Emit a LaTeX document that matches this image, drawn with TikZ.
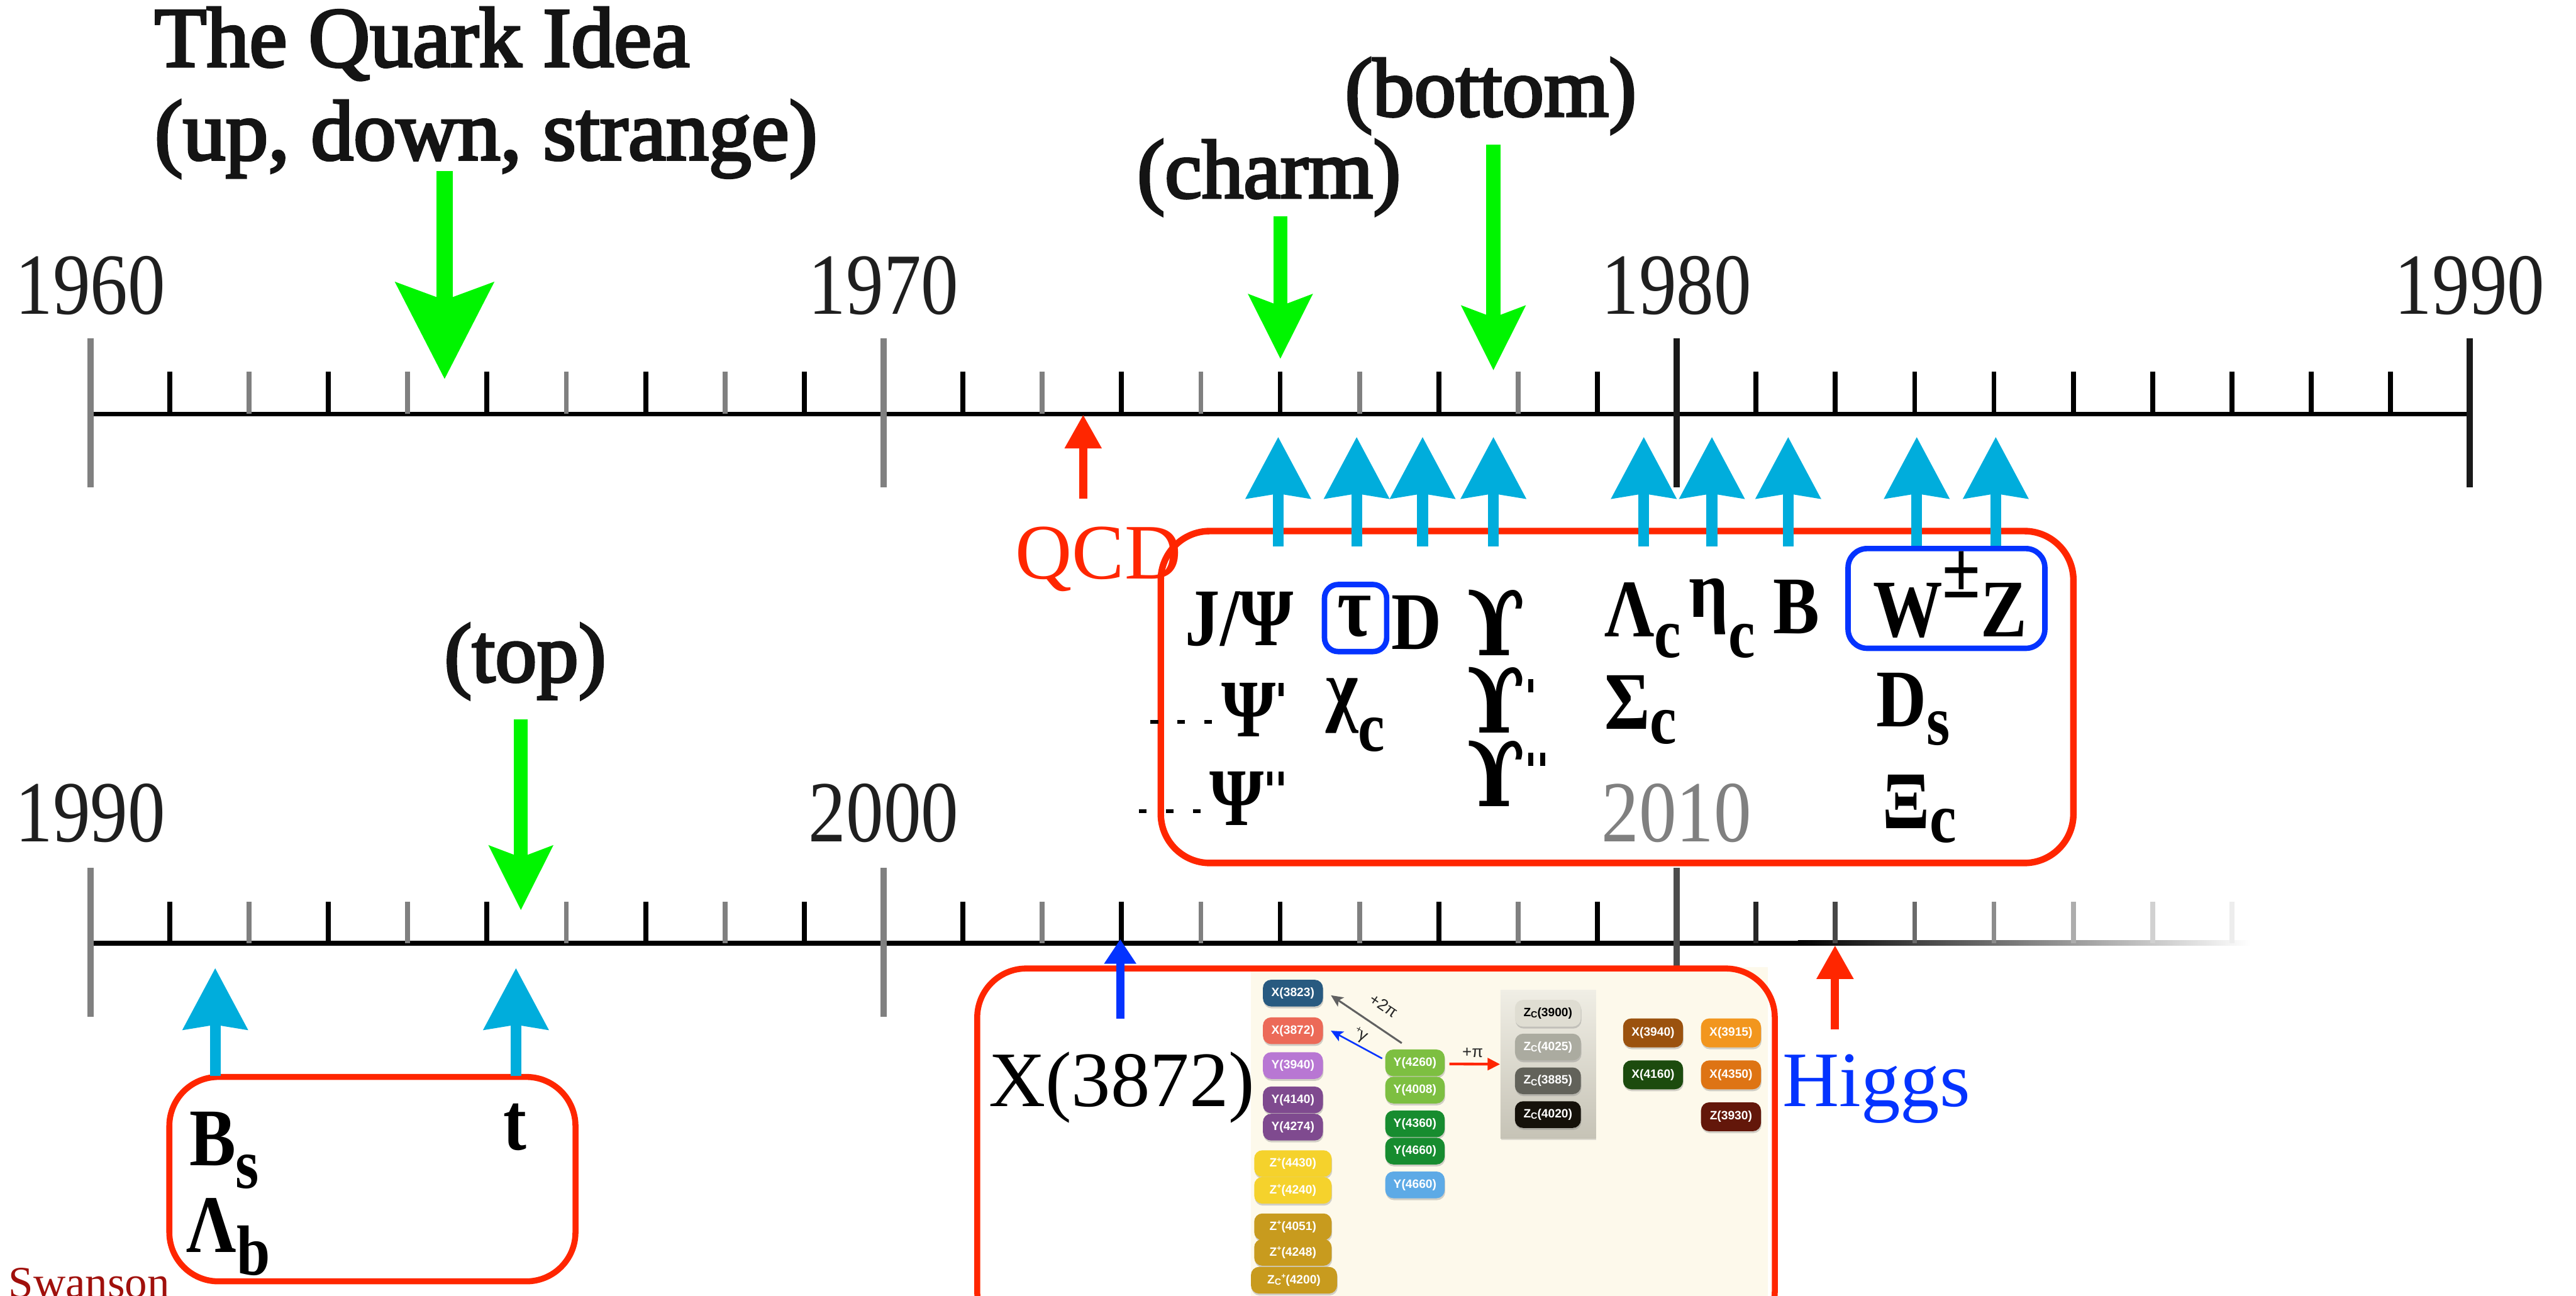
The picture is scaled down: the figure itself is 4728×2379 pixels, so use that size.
\documentclass[tikz,border=0pt]{standalone}
\usepackage{fontspec}
\setmainfont{Liberation Serif}
\newfontfamily\yearfont[FakeStretch=0.86]{Liberation Serif}
\newfontfamily\headfont[FakeBold=3]{Liberation Serif}
\newfontfamily\partfont[FakeStretch=0.85]{Liberation Serif}
\newfontfamily\upsfont[FakeStretch=0.85]{DejaVu Serif}
\newfontfamily\pillfont{Liberation Sans}
\usetikzlibrary{arrows.meta,shadows}

\definecolor{qgreen}{HTML}{00F500}
\definecolor{qcyan}{HTML}{00ADDC}
\definecolor{qred}{HTML}{FF2600}
\definecolor{qblue}{HTML}{0433FF}
\definecolor{swred}{HTML}{A0100C}
\definecolor{cream}{HTML}{FDF9EB}
\definecolor{panelTop}{HTML}{F0EEE5}
\definecolor{panelBot}{HTML}{C6C3B6}
\definecolor{cXa}{HTML}{285A80}
\definecolor{cXb}{HTML}{EC6A58}
\definecolor{cYa}{HTML}{B877D3}
\definecolor{cYb}{HTML}{7F4A8F}
\definecolor{cZy}{HTML}{F5D22C}
\definecolor{cZg}{HTML}{C89B1E}
\definecolor{cYg}{HTML}{7DBF41}
\definecolor{cYd}{HTML}{178C2F}
\definecolor{cYl}{HTML}{5DAAE6}
\definecolor{cZa}{HTML}{DFDDD2}
\definecolor{cZb}{HTML}{ABABA0}
\definecolor{cZc}{HTML}{62625A}
\definecolor{cZd}{HTML}{15110A}
\definecolor{cXc}{HTML}{9B520E}
\definecolor{cXd}{HTML}{1C4B0E}
\definecolor{cXe}{HTML}{F2961E}
\definecolor{cXf}{HTML}{DE7414}
\definecolor{cZe}{HTML}{63170A}

% lowered subscript for the particle symbols
\newcommand\partsub[2]{\raisebox{-#1}{\fontsize{37pt}{38pt}\selectfont #2}}
% straight prime tick
\newcommand\primemark{\kern1.5pt\rule[21pt]{2.6pt}{7pt}}
% curly-armed upsilon
\newcommand\upsglyph{{\upsfont\bfseries\fontsize{47pt}{48pt}\selectfont ϒ}}
% short dashed leader in front of the excited states
\newcommand\dashlead{\rule[6.5pt]{4pt}{2pt}\hspace{10pt}\rule[6.5pt]{4pt}{2pt}\hspace{10pt}\rule[6.5pt]{4pt}{2pt}\hspace{5pt}}
% small C and + marks in the exotic-state chips
\newcommand\zcsub{\raisebox{-0.12em}{\fontsize{4.7pt}{5pt}\selectfont C}}
\newcommand\zplus{\raisebox{0.4em}{\fontsize{4pt}{5pt}\selectfont +}}

\begin{document}
\begin{tikzpicture}[x=0.01cm, y=-0.01cm,
  year/.style={anchor=base, inner sep=0pt, font=\yearfont\fontsize{45.5pt}{46pt}\selectfont, text=black!88},
  head/.style={anchor=base west, inner sep=0pt, font=\headfont\fontsize{44.5pt}{45pt}\selectfont, text=black!92},
  quarklbl/.style={anchor=base, inner sep=0pt, font=\headfont\fontsize{43.5pt}{44pt}\selectfont, text=black!92},
  part/.style={anchor=base west, inner sep=0pt, font=\partfont\bfseries\fontsize{42.7pt}{43pt}\selectfont},
  biglbl/.style={anchor=base west, inner sep=0pt, font=\fontsize{41pt}{42pt}\selectfont},
  minor/.style={line width=0.09cm},
  major/.style={line width=0.11cm},
  greenbig/.style={draw=qgreen, line width=0.3cm, -{Stealth[length=1.76cm,width=1.77cm,inset=0.31cm]}},
  greenarrow/.style={draw=qgreen, line width=0.26cm, -{Stealth[length=1.17cm,width=1.14cm,inset=0.2cm]}},
  cyanarrow/.style={draw=qcyan, line width=0.2cm, -{Stealth[length=1.12cm,width=1.16cm,inset=0.08cm]}},
  redarrow/.style={draw=qred, line width=0.15cm, -{Triangle[length=0.62cm,width=0.64cm]}},
  bluearrow/.style={draw=qblue, line width=0.15cm, -{Triangle[length=0.45cm,width=0.56cm]}},
  redbox/.style={draw=qred, line width=0.12cm, rounded corners=0.9cm, inner sep=0pt},
  bluebox/.style={draw=qblue, line width=0.1cm, inner sep=0pt},
  pill/.style={rounded corners=0.15cm, minimum width=1.1cm, minimum height=0.49cm, inner sep=0pt,
    text=white, font=\pillfont\bfseries\fontsize{6.3pt}{7pt}\selectfont,
    drop shadow={shadow xshift=0.01cm, shadow yshift=-0.035cm, opacity=0.35}},
  tiny/.style={inner sep=0pt, font=\pillfont\fontsize{8.5pt}{9pt}\selectfont, text=black!85},
]
\useasboundingbox (0,0) rectangle (4728,2379);

% ---------------- upper time axis 1960-1990 ----------------
\coordinate (T1960) at (166,760);
\coordinate (T1990) at (4533,760);
\draw[line width=0.09cm] (T1960) -- (T1990);
\foreach \k in {1,3,5,7,9,11,13,15,17,19,21,22,23,24,25,26,27,28,29}
  \draw[minor] ({166+\k*145.57},682) -- ({166+\k*145.57},760);
\foreach \k in {2,4,6,8,12,14,16,18}
  \draw[minor, black!50] ({166+\k*145.57},682) -- ({166+\k*145.57},760);
\foreach \k/\c in {0/50,10/50,20/90,30/90}
  \draw[major, black!\c] ({166+\k*145.57},621) -- ({166+\k*145.57},894);

\node[year] (y1960) at (166,577) {1960};
\node[year] (y1970) at (1622,577) {1970};
\node[year] (y1980) at (3077,577) {1980};
\node[year] (y1990a) at (4533,577) {1990};

% ---------------- lower time axis 1990-2017 ----------------
\coordinate (B1990) at (166,1731);
\coordinate (Bfade) at (3300,1731);
\draw[line width=0.09cm] (B1990) -- (Bfade);
\shade[left color=black, right color=white] (3300,1726.5) rectangle (4130,1735.5);
\foreach \k in {1,3,5,7,9,11,13,15,17,19}
  \draw[minor] ({166+\k*145.57},1655) -- ({166+\k*145.57},1731);
\foreach \k in {2,4,6,8,12,14,16,18}
  \draw[minor, black!50] ({166+\k*145.57},1655) -- ({166+\k*145.57},1731);
\foreach \k/\c in {21/85,22/72,23/58,24/45,25/32,26/18,27/7}
  \draw[minor, black!\c] ({166+\k*145.57},1655) -- ({166+\k*145.57},1731);
\foreach \k/\c in {0/50,10/50,20/70}
  \draw[major, black!\c] ({166+\k*145.57},1593) -- ({166+\k*145.57},1867);

\node[year] (y1990b) at (166,1545) {1990};
\node[year] (y2000) at (1622,1545) {2000};
\node[year, text=black!50] (y2010) at (3077,1545) {2010};

% ---------------- quark discoveries (green) ----------------
\node[head] (idea1) at (283,122) {The Quark Idea};
\node[head] (idea2) at (283,293) {(up, down, strange)};
\node[quarklbl] (charm) at (2329,363) {(charm)};
\node[quarklbl] (bottom) at (2736,213) {(bottom)};
\node[quarklbl] (topq) at (964,1251) {(top)};

\coordinate (gq0) at (816,314);   \coordinate (gq1) at (816,696);
\coordinate (gc0) at (2350,397);  \coordinate (gc1) at (2350,659);
\coordinate (gb0) at (2741,266);  \coordinate (gb1) at (2741,680);
\coordinate (gt0) at (956,1320);  \coordinate (gt1) at (956,1671);
\draw[greenbig] (gq0) -- (gq1);
\draw[greenarrow] (gc0) -- (gc1);
\draw[greenarrow] (gb0) -- (gb1);
\draw[greenarrow] (gt0) -- (gt1);

% ---------------- QCD ----------------
\coordinate (qcd0) at (1988,915); \coordinate (qcd1) at (1988,761);
\draw[redarrow] (qcd0) -- (qcd1);
\node[biglbl, text=qred] (qcd) at (1863,1062) {QCD};

% ---------------- hadrons found 1975-1984 ----------------
\node[redbox, minimum width=16.74cm, minimum height=6.09cm] (box7080) at (2968,1279.5) {};
\foreach \x [count=\i] in {2346,2490,2611,2741,3017,3142,3282,3518,3663} {
  \coordinate (cb\i) at (\x,1003);
  \coordinate (ct\i) at (\x,802);
  \draw[cyanarrow] (cb\i) -- (ct\i);
}

\node[bluebox, rounded corners=0.25cm, minimum width=1.14cm, minimum height=1.23cm] (taubox) at (2488,1134.5) {};
\node[bluebox, rounded corners=0.35cm, minimum width=3.61cm, minimum height=1.83cm] (wzbox) at (3572.5,1098.5) {};

\node[part] (jpsi) at (2175,1185) {J/Ψ};
\node[part, anchor=base, font=\partfont\bfseries\fontsize{45.5pt}{46pt}\selectfont] (tau) at (2486,1167) {τ};
\node[part] (dmes) at (2553,1192) {D};
\node[part] (ups1) at (2692,1203) {\upsglyph};
\node[part] (lamc) at (2944,1169) {Λ\partsub{10.8pt}{c}};
\node[part] (etac) at (3099,1133) {η\partsub{21pt}{c}};
\node[part] (bmes) at (3254,1163) {B};
\node[part] (wz) at (3437,1169) {W\raisebox{20.5pt}{±}Z};

\node[part] (psi2) at (2111,1352) {\dashlead Ψ\primemark};
\node[part] (chic) at (2433,1314) {χ\partsub{18.5pt}{c}};
\node[part] (ups2) at (2692,1345) {\upsglyph\primemark};
\node[part] (sigc) at (2944,1338) {Σ\partsub{7.7pt}{c}};
\node[part] (dsub) at (3443,1334) {D\partsub{9.4pt}{s}};

\node[part] (psi3) at (2090,1515) {\dashlead Ψ\primemark\kern2pt\primemark};
\node[part] (ups3) at (2692,1480) {\upsglyph\primemark\kern2pt\primemark};
\node[part] (xic) at (3455,1521) {Ξ\partsub{7pt}{c}};

% ---------------- 1990s ----------------
\node[redbox, line width=0.11cm, minimum width=7.45cm, minimum height=3.75cm] (box90) at (683.5,2164.5) {};
\coordinate (cl0) at (395,1975); \coordinate (cl1) at (395,1777);
\coordinate (cr0) at (947,1975); \coordinate (cr1) at (947,1777);
\draw[cyanarrow] (cl0) -- (cl1);
\draw[cyanarrow] (cr0) -- (cr1);
\node[part] (bs) at (347,2140) {B\partsub{11.7pt}{s}};
\node[part] (lamb) at (342,2299) {Λ\partsub{11.7pt}{b}};
\node[part] (tq) at (923,2111) {t};

\node[anchor=base west, inner sep=0pt, font=\fontsize{23.3pt}{24pt}\selectfont, text=swred] (credit) at (15,2382) {Swanson};

% ---------------- X(3872) and the exotic states ----------------
\fill[cream] (2296,1775) rectangle (3245,2420);

\node[inner sep=0pt, minimum width=1.75cm, minimum height=2.73cm, top color=panelTop, bottom color=panelBot,
      drop shadow={shadow xshift=0.01cm, shadow yshift=-0.03cm, opacity=0.25}] (zcpanel) at (2841.5,1953.5) {};

\node[pill, fill=cXa] (X3823) at (2373,1823) {X(3823)};
\node[pill, fill=cXb] (X3872) at (2373,1892) {X(3872)};
\node[pill, fill=cYa] (Y3940) at (2373,1956) {Y(3940)};
\node[pill, fill=cYb] (Y4140) at (2373,2019) {Y(4140)};
\node[pill, fill=cYb] (Y4274) at (2373,2069) {Y(4274)};
\node[pill, fill=cZy, minimum width=1.42cm] (Z4430) at (2373,2136) {Z\zplus(4430)};
\node[pill, fill=cZy, minimum width=1.42cm] (Z4240) at (2373,2185) {Z\zplus(4240)};
\node[pill, fill=cZg, minimum width=1.42cm] (Z4051) at (2373,2252) {Z\zplus(4051)};
\node[pill, fill=cZg, minimum width=1.42cm] (Z4248) at (2373,2299) {Z\zplus(4248)};
\node[pill, fill=cZg, minimum width=1.58cm] (Z4200) at (2375,2350) {Z\zcsub\zplus(4200)};

\node[pill, fill=cYg, minimum width=1.09cm] (Y4260) at (2597,1951) {Y(4260)};
\node[pill, fill=cYg, minimum width=1.09cm] (Y4008) at (2597,2001) {Y(4008)};
\node[pill, fill=cYd, minimum width=1.09cm] (Y4360) at (2597,2063) {Y(4360)};
\node[pill, fill=cYd, minimum width=1.09cm] (Y4660a) at (2597,2113) {Y(4660)};
\node[pill, fill=cYl, minimum width=1.09cm] (Y4660b) at (2597,2175) {Y(4660)};

\node[pill, fill=cZa, minimum width=1.21cm, text=black] (Zc3900) at (2841,1860) {Z\zcsub(3900)};
\node[pill, fill=cZb, minimum width=1.21cm] (Zc4025) at (2841,1922) {Z\zcsub(4025)};
\node[pill, fill=cZc, minimum width=1.21cm] (Zc3885) at (2841,1984) {Z\zcsub(3885)};
\node[pill, fill=cZd, minimum width=1.21cm] (Zc4020) at (2841,2046) {Z\zcsub(4020)};

\node[pill, fill=cXc, minimum height=0.53cm] (X3940) at (3034,1896) {X(3940)};
\node[pill, fill=cXd, minimum height=0.53cm] (X4160) at (3034,1973) {X(4160)};
\node[pill, fill=cXe, minimum height=0.53cm] (X3915) at (3177,1896) {X(3915)};
\node[pill, fill=cXf, minimum height=0.53cm] (X4350) at (3177,1973) {X(4350)};
\node[pill, fill=cZe, minimum height=0.53cm] (Z3930) at (3177,2050) {Z(3930)};

\draw[draw=black!62, line width=0.035cm, -{Stealth[length=0.22cm,width=0.2cm,inset=0.05cm]}]
  ([shift={(31,-11)}]Y4260.north west) -- ([shift={(14,4)}]X3823.east);
\draw[draw=qblue, line width=0.03cm, -{Stealth[length=0.22cm,width=0.2cm,inset=0.05cm]}]
  ([shift={(-5,-8)}]Y4260.west) -- ([shift={(14,0)}]X3872.east);
\draw[draw=qred, line width=0.05cm, -{Triangle[length=0.23cm,width=0.22cm]}]
  ([shift={(8,2)}]Y4260.east) -- (zcpanel.west);
\node[tiny, rotate=-34] (l2pi) at (2540,1846) {+2π};
\node[tiny, rotate=-28] (lgam) at (2497,1900) {\raisebox{0.3em}{\fontsize{5pt}{5pt}\selectfont +}γ};
\node[tiny] (lpi) at (2703,1932) {+π};

\node[redbox, line width=0.11cm, minimum width=14.63cm, minimum height=6.82cm] (box00) at (2525.5,2119) {};

\coordinate (xb0) at (2056,1870); \coordinate (xb1) at (2056,1724);
\draw[bluearrow] (xb0) -- (xb1);
\node[biglbl] (x3872) at (1814,2031) {X(3872)};

\coordinate (hg0) at (3368,1890); \coordinate (hg1) at (3368,1735);
\draw[redarrow] (hg0) -- (hg1);
\node[biglbl, text=qblue] (higgs) at (3271,2031) {Higgs};
\end{tikzpicture}
\end{document}
